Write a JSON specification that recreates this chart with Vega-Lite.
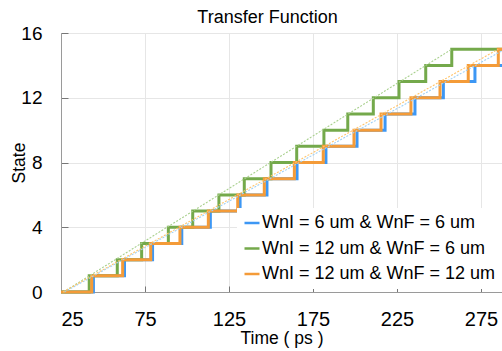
{
  "$schema": "https://vega.github.io/schema/vega-lite/v6.json",
  "width": 441,
  "height": 259,
  "autosize": {"type": "none"},
  "padding": {"left": 61, "top": 33, "right": 0, "bottom": 59},
  "background": "white",
  "config": {
    "font": "Liberation Sans",
    "view": {"stroke": "#9a9a9a", "strokeWidth": 1}
  },
  "title": {
    "text": "Transfer Function",
    "fontSize": 18,
    "fontWeight": "normal",
    "color": "#000000",
    "baseline": "alphabetic",
    "offset": 0,
    "dy": 17,
    "dx": -14
  },
  "datasets": {
    "steps": [
      {"series": "WnI = 6 um & WnF = 6 um", "time": 25, "state": 0},
      {"series": "WnI = 6 um & WnF = 6 um", "time": 44.3, "state": 1},
      {"series": "WnI = 6 um & WnF = 6 um", "time": 62.8, "state": 2},
      {"series": "WnI = 6 um & WnF = 6 um", "time": 79.5, "state": 3},
      {"series": "WnI = 6 um & WnF = 6 um", "time": 96.9, "state": 4},
      {"series": "WnI = 6 um & WnF = 6 um", "time": 113.9, "state": 5},
      {"series": "WnI = 6 um & WnF = 6 um", "time": 131.6, "state": 6},
      {"series": "WnI = 6 um & WnF = 6 um", "time": 147.6, "state": 7},
      {"series": "WnI = 6 um & WnF = 6 um", "time": 165.5, "state": 8},
      {"series": "WnI = 6 um & WnF = 6 um", "time": 182.7, "state": 9},
      {"series": "WnI = 6 um & WnF = 6 um", "time": 201.2, "state": 10},
      {"series": "WnI = 6 um & WnF = 6 um", "time": 217.9, "state": 11},
      {"series": "WnI = 6 um & WnF = 6 um", "time": 235.7, "state": 12},
      {"series": "WnI = 6 um & WnF = 6 um", "time": 252.6, "state": 13},
      {"series": "WnI = 6 um & WnF = 6 um", "time": 271.4, "state": 14},
      {"series": "WnI = 6 um & WnF = 6 um", "time": 287.5, "state": 14},
      {"series": "WnI = 12 um & WnF = 6 um", "time": 25, "state": 0},
      {"series": "WnI = 12 um & WnF = 6 um", "time": 41.8, "state": 1},
      {"series": "WnI = 12 um & WnF = 6 um", "time": 58.5, "state": 2},
      {"series": "WnI = 12 um & WnF = 6 um", "time": 73.0, "state": 3},
      {"series": "WnI = 12 um & WnF = 6 um", "time": 88.9, "state": 4},
      {"series": "WnI = 12 um & WnF = 6 um", "time": 103.4, "state": 5},
      {"series": "WnI = 12 um & WnF = 6 um", "time": 119.0, "state": 6},
      {"series": "WnI = 12 um & WnF = 6 um", "time": 134.1, "state": 7},
      {"series": "WnI = 12 um & WnF = 6 um", "time": 150.0, "state": 8},
      {"series": "WnI = 12 um & WnF = 6 um", "time": 165.3, "state": 9},
      {"series": "WnI = 12 um & WnF = 6 um", "time": 181.5, "state": 10},
      {"series": "WnI = 12 um & WnF = 6 um", "time": 195.7, "state": 11},
      {"series": "WnI = 12 um & WnF = 6 um", "time": 210.9, "state": 12},
      {"series": "WnI = 12 um & WnF = 6 um", "time": 226.2, "state": 13},
      {"series": "WnI = 12 um & WnF = 6 um", "time": 242.1, "state": 14},
      {"series": "WnI = 12 um & WnF = 6 um", "time": 257.6, "state": 15},
      {"series": "WnI = 12 um & WnF = 6 um", "time": 287.5, "state": 15},
      {"series": "WnI = 12 um & WnF = 12 um", "time": 25, "state": 0},
      {"series": "WnI = 12 um & WnF = 12 um", "time": 43.3, "state": 1},
      {"series": "WnI = 12 um & WnF = 12 um", "time": 61.7, "state": 2},
      {"series": "WnI = 12 um & WnF = 12 um", "time": 78.4, "state": 3},
      {"series": "WnI = 12 um & WnF = 12 um", "time": 95.8, "state": 4},
      {"series": "WnI = 12 um & WnF = 12 um", "time": 112.7, "state": 5},
      {"series": "WnI = 12 um & WnF = 12 um", "time": 130.2, "state": 6},
      {"series": "WnI = 12 um & WnF = 12 um", "time": 146.0, "state": 7},
      {"series": "WnI = 12 um & WnF = 12 um", "time": 163.9, "state": 8},
      {"series": "WnI = 12 um & WnF = 12 um", "time": 181.1, "state": 9},
      {"series": "WnI = 12 um & WnF = 12 um", "time": 199.4, "state": 10},
      {"series": "WnI = 12 um & WnF = 12 um", "time": 215.5, "state": 11},
      {"series": "WnI = 12 um & WnF = 12 um", "time": 233.3, "state": 12},
      {"series": "WnI = 12 um & WnF = 12 um", "time": 250.6, "state": 13},
      {"series": "WnI = 12 um & WnF = 12 um", "time": 267.4, "state": 14},
      {"series": "WnI = 12 um & WnF = 12 um", "time": 285.3, "state": 15},
      {"series": "WnI = 12 um & WnF = 12 um", "time": 287.5, "state": 15}
    ],
    "trends": [
      {"series": "WnI = 6 um & WnF = 6 um", "time": 27.0, "state": 0},
      {"series": "WnI = 6 um & WnF = 6 um", "time": 287.5, "state": 14.9},
      {"series": "WnI = 12 um & WnF = 6 um", "time": 26.5, "state": 0},
      {"series": "WnI = 12 um & WnF = 6 um", "time": 257.6, "state": 15},
      {"series": "WnI = 12 um & WnF = 12 um", "time": 26.2, "state": 0},
      {"series": "WnI = 12 um & WnF = 12 um", "time": 285.3, "state": 15}
    ]
  },
  "encoding": {
    "x": {
      "field": "time",
      "type": "quantitative",
      "scale": {"domain": [25, 287.5], "nice": false, "zero": false},
      "axis": {
        "values": [25, 75, 125, 175, 225, 275],
        "title": "Time ( ps )",
        "grid": true,
        "gridColor": "#e6e6e6",
        "domainColor": "#9a9a9a",
        "tickColor": "#777777",
        "tickSize": -6,
        "labelFontSize": 20,
        "labelColor": "#000000",
        "labelBaseline": "top",
        "labelPadding": 23,
        "titleFontSize": 17.5,
        "titleFontWeight": "normal",
        "titleColor": "#000000",
        "titlePadding": 0
      }
    },
    "y": {
      "field": "state",
      "type": "quantitative",
      "scale": {"domain": [0, 16], "nice": false},
      "axis": {
        "values": [0, 4, 8, 12, 16],
        "title": "State",
        "grid": true,
        "gridColor": "#e6e6e6",
        "domainColor": "#9a9a9a",
        "tickColor": "#777777",
        "tickSize": -7,
        "labelFontSize": 19,
        "labelColor": "#000000",
        "labelPadding": 26,
        "titleFontSize": 17.5,
        "titleFontWeight": "normal",
        "titleColor": "#000000",
        "titleBaseline": "alphabetic",
        "titleX": -37,
        "titleY": 129.5
      }
    }
  },
  "layer": [
    {
      "data": {"name": "steps"},
      "mark": {"type": "line", "interpolate": "step-after", "strokeWidth": 3},
      "encoding": {
        "color": {
          "field": "series",
          "type": "nominal",
          "scale": {
            "domain": ["WnI = 6 um & WnF = 6 um", "WnI = 12 um & WnF = 6 um", "WnI = 12 um & WnF = 12 um"],
            "range": ["#3d97f4", "#74a94b", "#f49b38"]
          },
          "legend": {
            "title": null,
            "orient": "none",
            "legendX": 176,
            "legendY": 175,
            "padding": 6,
            "fillColor": "white",
            "symbolType": "stroke",
            "symbolSize": 225,
            "symbolStrokeWidth": 2.5,
            "labelFontSize": 18,
            "labelColor": "#000000",
            "labelOffset": 1,
            "rowPadding": 7.5,
            "labelLimit": 400
          }
        }
      }
    },
    {
      "data": {"name": "trends"},
      "mark": {"type": "line", "strokeWidth": 1.1, "strokeDash": [2, 1.5]},
      "encoding": {
        "color": {
          "field": "series",
          "type": "nominal",
          "scale": {
            "domain": ["WnI = 6 um & WnF = 6 um", "WnI = 12 um & WnF = 6 um", "WnI = 12 um & WnF = 12 um"],
            "range": ["#9fd0f5", "#a9d08e", "#ffc46b"]
          },
          "legend": null
        }
      }
    }
  ],
  "resolve": {"scale": {"color": "independent"}}
}
